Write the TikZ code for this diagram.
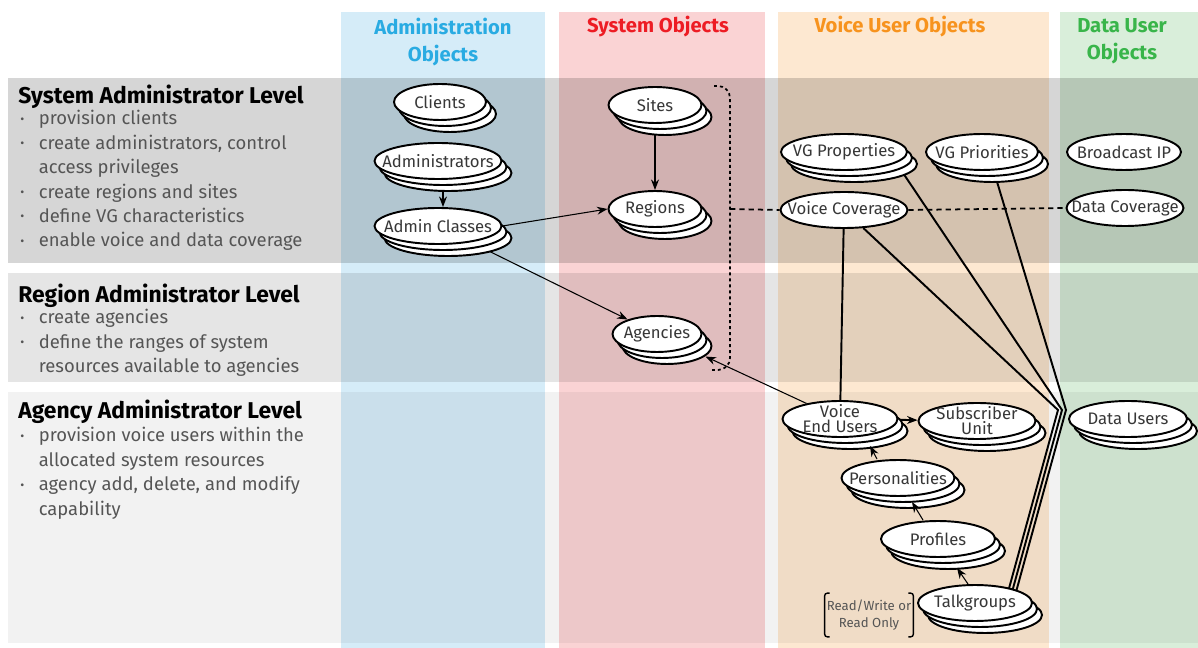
\documentclass[tikz,border=0pt]{standalone}
\usepackage{fontspec}
\setmainfont{Fira Sans}
\usepackage{xcolor}
\usetikzlibrary{positioning, arrows.meta, shapes.geometric, shadows, calc}
\definecolor{admBlue}{RGB}{41, 171, 226}
\definecolor{admFill}{RGB}{213, 236, 248}
\definecolor{sysRed}{RGB}{237, 28, 36}
\definecolor{sysFill}{RGB}{250, 211, 212}
\definecolor{voiceOrange}{RGB}{247, 147, 30}
\definecolor{voiceFill}{RGB}{253, 232, 209}
\definecolor{dataGreen}{RGB}{57, 181, 74}
\definecolor{dataFill}{RGB}{217, 238, 218}
\definecolor{labelGray}{RGB}{55, 55, 55}
\definecolor{itemGray}{RGB}{85, 85, 85}
\pgfdeclarelayer{bands}
\pgfdeclarelayer{links}
\pgfsetlayers{bands,links,main}
\newcommand{\bul}{\makebox[10.5pt][l]{\raisebox{0.15ex}{\scriptsize\textbullet}}}
\newcommand{\contd}{\hspace*{10.5pt}}

\begin{document}
\begin{tikzpicture}[
    x=0.02cm, y=-0.02cm,
    font=\fontsize{9.5}{10}\selectfont,
    objbox/.style={ellipse, draw, fill=white, line width=1.1pt, text=labelGray,
        inner xsep=-8pt, inner ysep=-3pt, minimum height=0.72cm},
    objstack/.style={objbox,
        copy shadow={shadow xshift=0.2cm, shadow yshift=-0.24cm},
        copy shadow={shadow xshift=0.1cm, shadow yshift=-0.12cm}},
    colhead/.style={font=\fontsize{11.5}{15.5}\selectfont\bfseries, align=center},
    lvlhead/.style={font=\fontsize{13}{15}\selectfont\bfseries, anchor=west, inner sep=0pt},
    lvlitems/.style={font=\fontsize{10.5}{13.9}\selectfont, text=itemGray, align=left,
        anchor=north west, inner sep=0pt},
    link/.style={line width=1.1pt},
    thinlink/.style={line width=0.6pt},
    arr/.style={-{Stealth[length=6pt, width=4.5pt]}},
    dotline/.style={line width=1pt, dash pattern=on 1.7pt off 1.7pt},
    dashline/.style={line width=1pt, dash pattern=on 3pt off 2.3pt}
]
\useasboundingbox (0,0) rectangle (1198,648);

% columns and levels
\begin{pgfonlayer}{bands}
\fill[admFill]   (341,12) rectangle (545,648);
\fill[sysFill]   (559,12) rectangle (765,648);
\fill[voiceFill] (778,12) rectangle (1049,648);
\fill[dataFill]  (1060,12) rectangle (1198,648);
\fill[black, fill opacity=0.16] (8,78) rectangle (1198,263);
\fill[black, fill opacity=0.10] (8,273) rectangle (1198,382);
\fill[black, fill opacity=0.05] (8,392) rectangle (1198,643);
\end{pgfonlayer}

\node[colhead, text=admBlue]     (admhead)   at (443,42)  {Administration\\Objects};
\node[colhead, text=sysRed]      (syshead)   at (658,27)  {System Objects};
\node[colhead, text=voiceOrange] (voicehead) at (900,27)  {Voice User Objects};
\node[colhead, text=dataGreen]   (datahead)  at (1122,41) {Data User\\Objects};

\node[lvlhead] (sysadm) at (18,97) {System Administrator Level};
\node[lvlitems] (sysitems) at (20,110) {\bul provision clients\\
    \bul create administrators, control\\ \contd access privileges\\
    \bul create regions and sites\\ \bul define VG characteristics\\
    \bul enable voice and data coverage};
\node[lvlhead] (regadm) at (18,296) {Region Administrator Level};
\node[lvlitems] (regitems) at (20,309) {\bul create agencies\\
    \bul define the ranges of system\\ \contd resources available to agencies};
\node[lvlhead] (agyadm) at (18,412) {Agency Administrator Level};
\node[lvlitems] (agyitems) at (20,427) {\bul provision voice users within the\\
    \contd allocated system resources\\ \bul agency add, delete, and modify\\
    \contd capability};

% objects
\node[objstack, minimum width=1.84cm] (clients)  at (440,102) {Clients};
\node[objstack, minimum width=2.54cm] (admins)   at (438,161) {Administrators};
\node[objstack, minimum width=2.54cm] (aclasses) at (438,226) {Admin Classes};
\node[objstack, minimum width=1.86cm] (sites)    at (655,105) {Sites};
\node[objstack, minimum width=1.86cm] (regions)  at (655,209) {Regions};
\node[objstack, minimum width=1.78cm] (agencies) at (657,334) {Agencies};
\node[objstack, minimum width=2.52cm] (vgprop)   at (844,152) {VG Properties};
\node[objstack, minimum width=2.24cm] (vgprio)   at (982,152) {VG Priorities};
\node[objbox,   minimum width=2.28cm] (bcastip)  at (1124,152) {Broadcast IP};
\node[objbox,   minimum width=2.54cm] (vcov)     at (844,210) {Voice Coverage};
\node[objbox,   minimum width=2.34cm] (dcov)     at (1125,208) {Data Coverage};
\node[objstack, minimum width=2.30cm, align=center, font=\fontsize{9.5}{8.5}\selectfont]
    (veu) at (840,419) {Voice\\End Users};
\node[objstack, minimum width=2.34cm, align=center, font=\fontsize{9.5}{8.5}\selectfont]
    (subunit) at (977,421) {Subscriber\\Unit};
\node[objstack, minimum width=2.36cm] (datausers) at (1128,419) {Data Users};
\node[objstack, minimum width=2.26cm] (perso)     at (898,478) {Personalities};
\node[objstack, minimum width=2.28cm] (profiles)  at (938,539) {Profiles};
\node[objstack, minimum width=2.28cm] (tgroups)   at (975,603) {Talkgroups};
\node[align=center, text=itemGray, font=\fontsize{7.5}{10}\selectfont,
    minimum width=1.76cm, minimum height=0.86cm, inner sep=0pt] (rwnote) at (869,615)
    {Read/Write or\\Read Only};
\draw[line width=0.8pt, rounded corners=1.5pt]
    ([xshift=0.1cm]rwnote.north west) -- (rwnote.north west) -- (rwnote.south west) -- ([xshift=0.1cm]rwnote.south west)
    ([xshift=-0.1cm]rwnote.north east) -- (rwnote.north east) -- (rwnote.south east) -- ([xshift=-0.1cm]rwnote.south east);

\coordinate (brtop) at (714,86);
\coordinate (brmid) at (730,209);
\coordinate (brbot) at (712,370);
\coordinate (kinka) at (1058,410);
\coordinate (kinkb) at (1062,410);
\coordinate (kinkc) at (1066,410);

\begin{pgfonlayer}{links}
\draw[link, arr] ([xshift=0.1cm]admins.south) -- ([xshift=0.1cm]aclasses.north);
\draw[link, arr] (sites) -- (regions);
\draw[thinlink, arr] (aclasses.east) -- (regions.west);
\draw[thinlink, arr] (aclasses) -- (agencies);
\draw[link] (vcov) -- (veu);
\draw[link, arr] (veu) -- (subunit);
\draw[link] (vcov) -- (kinka) -- ($(tgroups.center)+(30,0)$);
\draw[link] ($(vgprop.center)+(55,15)$) -- (kinkb) -- ($(tgroups.center)+(34,0)$);
\draw[link] ($(vgprio.center)+(6,0)$) -- (kinkc) -- ($(tgroups.center)+(38,0)$);
\draw[dotline, rounded corners=0.24cm] (brtop) -| (brmid) |- (brbot);
\draw[dashline] (brmid) -- (vcov.west);
\draw[dashline] (vcov.east) -- (dcov.west);
\end{pgfonlayer}

\draw[thinlink, arr, shorten >=0.4cm] (veu) -- (agencies);
\draw[thinlink, arr] ($(perso.north)+(-21,0)$) -- ($(veu.south)+(30,8)$);
\draw[thinlink, arr] ($(profiles.north)+(-15,0)$) -- ($(perso.south)+(14,5)$);
\draw[thinlink, arr] ($(tgroups.north)+(-7,0)$) -- ($(profiles.south)+(19,10)$);
\end{tikzpicture}
\end{document}
